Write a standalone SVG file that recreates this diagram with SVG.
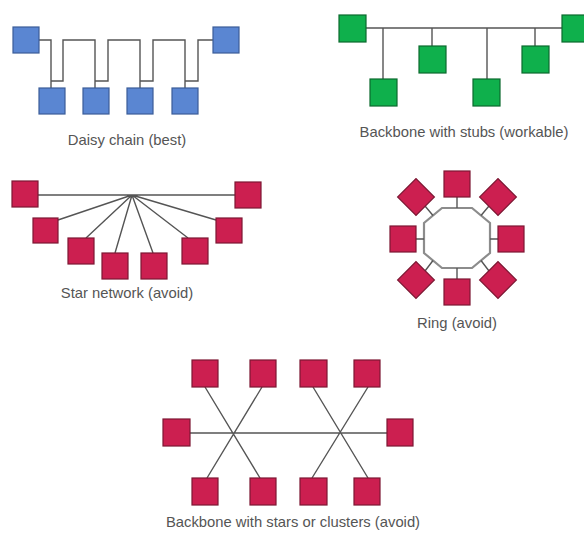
<svg xmlns="http://www.w3.org/2000/svg" width="584" height="536" viewBox="0 0 584 536">
<style>
.blue{fill:#5a86d2;stroke:#3b5d98;stroke-width:1.2}
.green{fill:#0fb04c;stroke:#0a6a2e;stroke-width:1.2}
.red{fill:#cc1f50;stroke:#7c1733;stroke-width:1.2}
.wire{fill:none;stroke:#555;stroke-width:1.4}
.ring{fill:none;stroke:#8c8c8c;stroke-width:2.2}
.lbl{font-family:"Liberation Sans",Arial,sans-serif;font-size:14.8px;fill:#555;text-anchor:middle}
</style>
<rect width="584" height="536" fill="#fff"/>

<!-- Daisy chain -->
<g id="connectors-daisy">
<path class="wire" d="M39,40 H51 V88 M51,81 H63 V40 H95 V88 M95,81 H108 V40 H140 V88 M140,81 H153 V40 H185 V88 M185,81 H198 V40 H213"/>
</g>
<g id="daisy-tl"><rect class="blue" x="13" y="27" width="26" height="26"/></g>
<g id="daisy-tr"><rect class="blue" x="213" y="27" width="26" height="26"/></g>
<g id="daisy-1"><rect class="blue" x="39" y="88" width="26" height="26"/></g>
<g id="daisy-2"><rect class="blue" x="83" y="88" width="26" height="26"/></g>
<g id="daisy-3"><rect class="blue" x="127" y="88" width="26" height="26"/></g>
<g id="daisy-4"><rect class="blue" x="172" y="88" width="26" height="26"/></g>
<text class="lbl" x="127" y="145">Daisy chain (best)</text>

<!-- Backbone with stubs -->
<g id="connectors-stubs">
<path class="wire" d="M366,28 H562 M383,28 V79 M432,28 V46 M487,28 V79 M535,28 V46"/>
</g>
<g id="stub-l"><rect class="green" x="339" y="15" width="27" height="27"/></g>
<g id="stub-r"><rect class="green" x="562" y="15" width="27" height="27"/></g>
<g id="stub-1"><rect class="green" x="370" y="79" width="27" height="27"/></g>
<g id="stub-2"><rect class="green" x="419" y="46" width="27" height="27"/></g>
<g id="stub-3"><rect class="green" x="473" y="79" width="27" height="27"/></g>
<g id="stub-4"><rect class="green" x="522" y="46" width="27" height="27"/></g>
<text class="lbl" x="464" y="137">Backbone with stubs (workable)</text>

<!-- Star network -->
<g id="connectors-star">
<path class="wire" d="M38,195 H235 M132,195 L58,220 M132,195 L86,238 M132,195 L115,253 M132,195 L153,253 M132,195 L188,238 M132,195 L216,220"/>
</g>
<g id="star-l1"><rect class="red" x="12" y="181" width="26" height="26"/></g>
<g id="star-r1"><rect class="red" x="235" y="182" width="26" height="26"/></g>
<g id="star-l2"><rect class="red" x="33" y="218" width="25" height="25"/></g>
<g id="star-l3"><rect class="red" x="68" y="238" width="26" height="26"/></g>
<g id="star-l4"><rect class="red" x="102" y="253" width="26" height="26"/></g>
<g id="star-r4"><rect class="red" x="141" y="253" width="26" height="26"/></g>
<g id="star-r3"><rect class="red" x="182" y="238" width="26" height="26"/></g>
<g id="star-r2"><rect class="red" x="216" y="218" width="26" height="25"/></g>
<text class="lbl" x="127" y="298">Star network (avoid)</text>

<!-- Ring -->
<g id="connectors-ring">
<polygon class="ring" points="442,208 472,208 490,223 490,253 472,268 442,268 424,253 424,223"/>
<path class="wire" d="M457,197 V208 M416,239 H424 M490,239 H498 M457,268 V279 M425,206 L433,215.5 M489,206 L481,215.5 M425,271 L433,260.5 M489,271 L481,260.5"/>
</g>
<g id="ring-top"><rect class="red" x="444" y="171" width="26" height="26"/></g>
<g id="ring-bottom"><rect class="red" x="444" y="279" width="26" height="26"/></g>
<g id="ring-left"><rect class="red" x="390" y="226" width="26" height="26"/></g>
<g id="ring-right"><rect class="red" x="498" y="226" width="26" height="26"/></g>
<g id="ring-tl"><rect class="red" x="403" y="184" width="26" height="26" transform="rotate(45 416 197)"/></g>
<g id="ring-tr"><rect class="red" x="485" y="184" width="26" height="26" transform="rotate(45 498 197)"/></g>
<g id="ring-bl"><rect class="red" x="403" y="267" width="26" height="26" transform="rotate(45 416 280)"/></g>
<g id="ring-br"><rect class="red" x="485" y="267" width="26" height="26" transform="rotate(45 498 280)"/></g>
<text class="lbl" x="457" y="328">Ring (avoid)</text>

<!-- Backbone with stars -->
<g id="connectors-clusters">
<path class="wire" d="M190,433 H387 M205,387 L260,478 M262,387 L207,478 M313,387 L368,478 M368,387 L312,478"/>
</g>
<g id="cl-t1"><rect class="red" x="192" y="360" width="26" height="27"/></g>
<g id="cl-t2"><rect class="red" x="250" y="360" width="26" height="27"/></g>
<g id="cl-t3"><rect class="red" x="300" y="360" width="27" height="27"/></g>
<g id="cl-t4"><rect class="red" x="354" y="360" width="26" height="27"/></g>
<g id="cl-b1"><rect class="red" x="192" y="478" width="26" height="27"/></g>
<g id="cl-b2"><rect class="red" x="250" y="478" width="26" height="27"/></g>
<g id="cl-b3"><rect class="red" x="300" y="478" width="27" height="27"/></g>
<g id="cl-b4"><rect class="red" x="354" y="478" width="26" height="27"/></g>
<g id="cl-l"><rect class="red" x="163" y="419" width="27" height="27"/></g>
<g id="cl-r"><rect class="red" x="387" y="419" width="26" height="27"/></g>
<text class="lbl" x="293" y="527">Backbone with stars or clusters (avoid)</text>
</svg>
